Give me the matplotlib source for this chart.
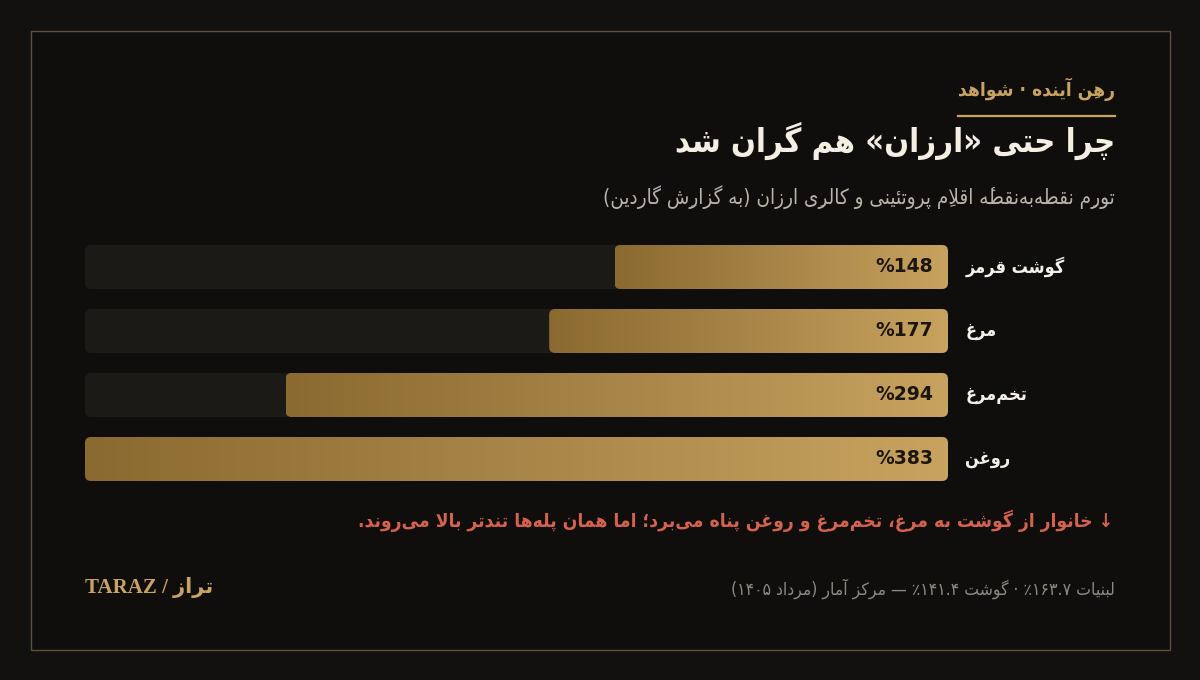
import re
import numpy as np
import matplotlib
matplotlib.use("Agg")
import matplotlib.pyplot as plt
from matplotlib.patches import FancyBboxPatch, Rectangle
from matplotlib.colors import LinearSegmentedColormap
from matplotlib.lines import Line2D

# ---- data ----
kicker = "رهنِ آینده · شواهد"
title = "چرا حتی «ارزان» هم گران شد"
subtitle = "تورمِ نقطه‌به‌نقطهٔ اقلامِ پروتئینی و کالریِ ارزان (به گزارشِ گاردین)"
categories = ["گوشت قرمز", "مرغ", "تخم‌مرغ", "روغن"]
values = [148, 177, 294, 383]
note = "↓ خانوار از گوشت به مرغ، تخم‌مرغ و روغن پناه می‌برد؛ اما همان پله‌ها تندتر بالا می‌روند."
source = "لبنیات ۱۶۳.۷٪ · گوشت ۱۴۱.۴٪ — مرکز آمار (مرداد ۱۴۰۵)"
brand = "تراز / TARAZ"

# ---- minimal persian shaping + rtl ordering (no reshaper lib available) ----
DUAL = {'ئ': 0xFE89, 'ب': 0xFE8F, 'ت': 0xFE95, 'ث': 0xFE99, 'ج': 0xFE9D, 'ح': 0xFEA1,
        'خ': 0xFEA5, 'س': 0xFEB1, 'ش': 0xFEB5, 'ص': 0xFEB9, 'ض': 0xFEBD, 'ط': 0xFEC1,
        'ظ': 0xFEC5, 'ع': 0xFEC9, 'غ': 0xFECD, 'ف': 0xFED1, 'ق': 0xFED5, 'ل': 0xFEDD,
        'م': 0xFEE1, 'ن': 0xFEE5, 'ه': 0xFEE9, 'ي': 0xFEF1, 'پ': 0xFB56, 'چ': 0xFB7A,
        'ک': 0xFB8E, 'گ': 0xFB92, 'ی': 0xFBFC}
RIGHT = {'آ': 0xFE81, 'أ': 0xFE83, 'ؤ': 0xFE85, 'إ': 0xFE87, 'ا': 0xFE8D, 'ة': 0xFE93,
         'د': 0xFEA9, 'ذ': 0xFEAB, 'ر': 0xFEAD, 'ز': 0xFEAF, 'و': 0xFEED, 'ژ': 0xFB8A,
         'ى': 0xFEEF}
LAMALEF = {'ا': 0xFEFB, 'آ': 0xFEF5, 'أ': 0xFEF7, 'إ': 0xFEF9}
MARKS = set('\u064B\u064C\u064D\u064E\u064F\u0650\u0651\u0652\u0654\u0670')
MIRROR = {'(': ')', ')': '(', '«': '»', '»': '«'}
LTR = re.compile(r'[A-Za-z0-9\u06F0-\u06F9]')


def fa(s):
    ch = list(s)
    n = len(ch)

    def near(j, step):
        j += step
        while 0 <= j < n and ch[j] in MARKS:
            j += step
        return j if 0 <= j < n else None

    clusters = []
    i = 0
    while i < n:
        c = ch[i]
        if c in MARKS:
            if clusters:
                clusters[-1] += c
            i += 1
            continue
        if c == '\u200c':
            i += 1
            continue
        p = near(i, -1)
        jp = p is not None and ch[p] in DUAL
        if c == 'ل':
            q = near(i, 1)
            if q is not None and ch[q] in LAMALEF:
                clusters.append(chr(LAMALEF[ch[q]] + (1 if jp else 0)))
                i = q + 1
                continue
        if c in DUAL:
            q = near(i, 1)
            jn = q is not None and (ch[q] in DUAL or ch[q] in RIGHT)
            form = 3 if (jp and jn) else 1 if jp else 2 if jn else 0
            clusters.append(chr(DUAL[c] + form))
        elif c in RIGHT:
            clusters.append(chr(RIGHT[c] + (1 if jp else 0)))
        else:
            clusters.append(c)
        i += 1

    ltr = [bool(LTR.match(c)) for c in clusters]
    for k in range(1, len(clusters) - 1):
        if clusters[k] in '.٫' and ltr[k - 1] and ltr[k + 1]:
            ltr[k] = True
    units = []
    for c, l in zip(clusters, ltr):
        if l and units and units[-1][0]:
            units[-1][1] += c
        else:
            units.append([l, c])
    out = []
    for l, t in reversed(units):
        out.append(t if l else MIRROR.get(t, t))
    return "".join(out)


# ---- colours ----
BG_OUT = "#121110"
BG = "#0f0e0d"
FRAME = "#5e4f36"
GOLD = "#c9a362"
TRACK = "#1c1a16"
grad = LinearSegmentedColormap.from_list("gold", ["#8b6a31", "#a88548", "#c8a35f"])
FA = dict(family="DejaVu Sans", stretch="condensed")

W, H = 1200, 680
fig = plt.figure(figsize=(W / 100, H / 100), dpi=100, facecolor=BG_OUT)


def px(x, y):
    return x / W, 1 - y / H


fig.patches.append(Rectangle(px(30.5, 649.5), 1139 / W, 619 / H, transform=fig.transFigure,
                             facecolor=BG, edgecolor=FRAME, lw=1, zorder=-10))

# header
fig.text(*px(1115, 89), fa(kicker), ha="right", va="center", fontsize=13.8,
         fontweight="bold", color=GOLD, **FA)
fig.add_artist(Line2D([958 / W, 1115 / W], [1 - 116 / H] * 2, transform=fig.transFigure,
                      color=GOLD, lw=1.6))
fig.text(*px(1115, 141), fa(title), ha="right", va="center", fontsize=23.5,
         fontweight="bold", color="#f4eee3", **FA)
fig.text(*px(1115, 197), fa(subtitle), ha="right", va="center", fontsize=14.8,
         color="#bab3a7", **FA)

# bars
x0, x1, y0, y1 = 85, 948, 235, 491
ax = fig.add_axes([x0 / W, 1 - y1 / H, (x1 - x0) / W, (y1 - y0) / H])
ax.set_facecolor("none")
vmax = max(values)
ypos = np.arange(len(categories))
bh = 44 / 64
asp = (1 / 64) / (vmax / (x1 - x0))
rr = 6 * vmax / (x1 - x0)

tracks = ax.barh(ypos, [vmax] * len(values), height=bh, color="none")
fills = ax.barh(ypos, values, height=bh, color="none")
for t, f, v, lab in zip(tracks, fills, values, categories):
    bx, by = t.get_x(), t.get_y()
    ax.add_patch(FancyBboxPatch((bx, by), t.get_width(), t.get_height(),
                                boxstyle=f"round,pad=0,rounding_size={rr}",
                                mutation_aspect=asp, facecolor=TRACK, edgecolor="none"))
    fb = FancyBboxPatch((f.get_x(), f.get_y()), f.get_width(), f.get_height(),
                        boxstyle=f"round,pad=0,rounding_size={rr}",
                        mutation_aspect=asp, facecolor="none", edgecolor="none")
    ax.add_patch(fb)
    im = ax.imshow(np.linspace(0, 1, 256)[None, :], cmap=grad, aspect="auto",
                   extent=[f.get_width(), f.get_x(), by + f.get_height(), by],
                   interpolation="bilinear", zorder=2)
    im.set_clip_path(fb)
    ax.annotate(f"%{v}", xy=(0, f.get_y() + f.get_height() / 2), xytext=(-10.5, 0),
                textcoords="offset points", ha="right", va="center", fontsize=13.5,
                fontweight="bold", color="#1b150c", family="DejaVu Sans", zorder=3)
    ax.annotate(fa(lab), xy=(1, f.get_y() + f.get_height() / 2),
                xycoords=("axes fraction", "data"), xytext=(12.5, 0),
                textcoords="offset points", ha="left", va="center", fontsize=13,
                fontweight="bold", color="#f6f1e8", annotation_clip=False, **FA)

ax.set_xlim(vmax, 0)
ax.set_ylim(len(categories) - 0.5, -0.5)
ax.axis("off")

# note + footer
fig.text(*px(1113, 521), fa(note), ha="right", va="center", fontsize=13.8,
         fontweight="bold", color="#d5624c", **FA)
fig.text(*px(1115, 589), fa(source), ha="right", va="center", fontsize=12.6,
         color="#8e8880", **FA)
fig.text(*px(85, 587), fa(brand), ha="left", va="center", fontsize=15,
         fontweight="bold", color=GOLD, family=["Liberation Serif", "DejaVu Sans"])

fig.savefig("out.png", dpi=100, facecolor=BG_OUT)
